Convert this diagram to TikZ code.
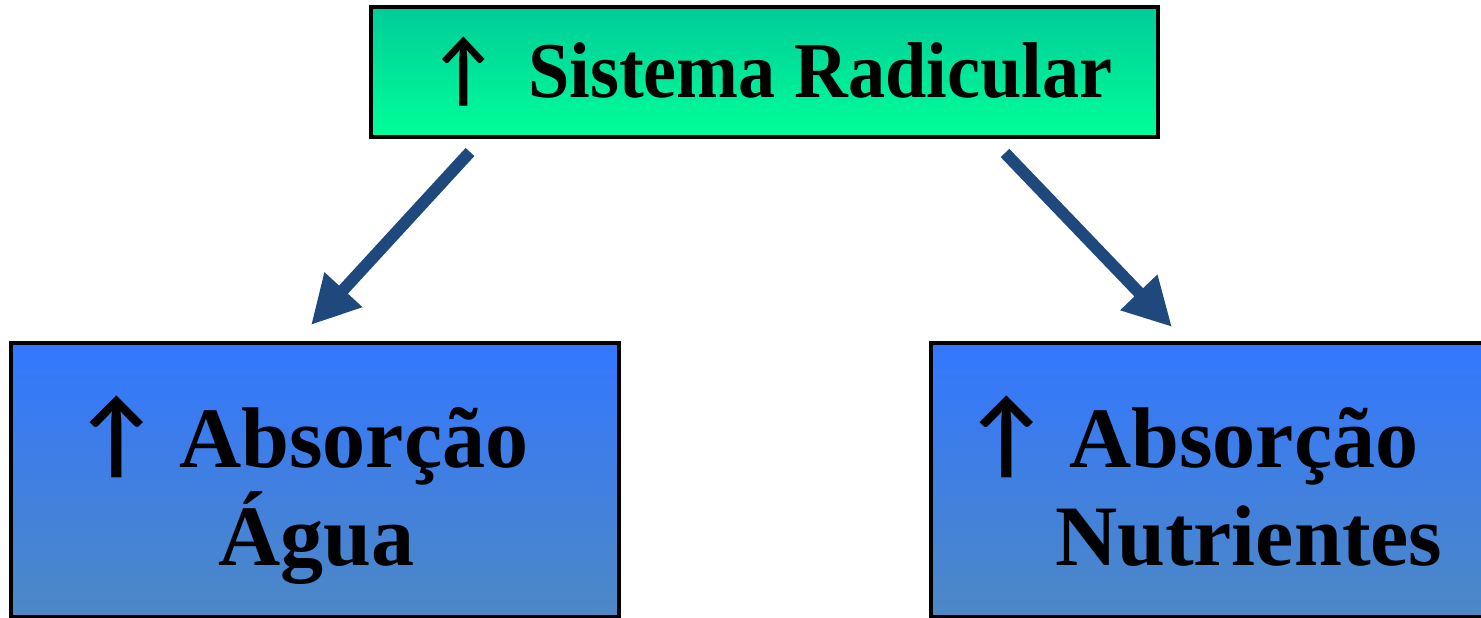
\documentclass[tikz,border=0pt]{standalone}
\usepackage{fontspec}
\setmainfont{Liberation Serif}
\newfontfamily\setaFont{Lato}
\usetikzlibrary{calc,arrows.meta}

\definecolor{raizTop}{RGB}{0,204,153}
\definecolor{raizBottom}{RGB}{0,255,153}
\definecolor{azulTop}{RGB}{51,119,255}
\definecolor{azulBottom}{RGB}{77,136,196}
\definecolor{setaAzul}{RGB}{31,73,125}

\newcommand{\setaCima}[1]{{\setaFont\fontsize{#1}{27}\selectfont ↑}}

\begin{document}
\begin{tikzpicture}
  \tikzset{
    raizBox/.style={draw=black, line width=0.9pt, top color=raizTop, bottom color=raizBottom, inner sep=0pt, outer sep=0pt, minimum width=7.87cm, minimum height=1.30cm, font=\bfseries\fontsize{22.5}{27}\selectfont},
    absorcaoBox/.style={draw=black, line width=0.9pt, top color=azulTop, bottom color=azulBottom, inner ysep=0pt, outer sep=0pt, minimum width=6.08cm, minimum height=2.74cm, align=left, text height=0.7cm, text depth=0.96cm, font=\bfseries\fontsize{24.5}{27.9}\selectfont},
    setaConector/.style={draw=setaAzul, line width=3.4pt, -{Triangle[length=4.8mm, width=4.8mm]}}
  }

  \useasboundingbox (0,0) rectangle (14.81,-6.18);

  % --- Top box ---
  \node[raizBox, anchor=north west] (raiz) at (3.71,-0.07) {\hspace*{0.2cm}\scalebox{0.94}[1]{\setaCima{22}\ \ Sistema Radicular}};

  % --- Bottom boxes (right one runs past the page edge) ---
  \node[absorcaoBox, anchor=north west, inner xsep=0.71cm, text width=4.66cm] (agua) at (0.11,-3.43) {\setaCima{26}\ Absorção\\\hspace*{1.36cm}Água};
  \node[absorcaoBox, anchor=north west, inner xsep=0.41cm, text width=5.26cm] (nutrientes) at (9.31,-3.43) {\setaCima{26}\ Absorção\\\hspace*{0.83cm}Nutrientes};

  % --- Connectors ---
  \coordinate (raizEsq) at ($(raiz.south west)+(0.99,-0.15)$);
  \coordinate (raizDir) at ($(raiz.south east)+(-1.53,-0.16)$);
  \coordinate (aguaTopo) at ($(agua.north west)+(3.0,0.18)$);
  \coordinate (nutrientesTopo) at ($(nutrientes.north west)+(2.41,0.16)$);

  \draw[setaConector] (raizEsq) -- (aguaTopo);
  \draw[setaConector] (raizDir) -- (nutrientesTopo);

\end{tikzpicture}
\end{document}
